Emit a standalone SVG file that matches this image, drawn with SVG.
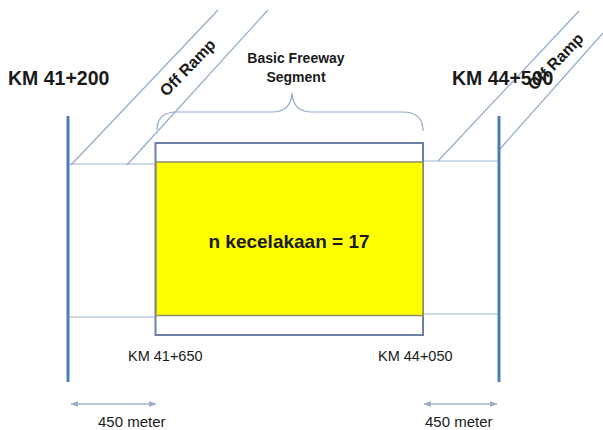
<svg xmlns="http://www.w3.org/2000/svg" width="603" height="430" viewBox="0 0 603 430">
  <defs>
    <marker id="ah" viewBox="0 0 8 8" refX="7" refY="4" markerWidth="6" markerHeight="6" orient="auto-start-reverse">
      <path d="M0,1 L7,4 L0,7 Z" fill="#9aa8c2"/>
    </marker>
    <style>
      .t { font-family: "Liberation Sans", Arial, sans-serif; fill: #1a1a1a; }
      .b { font-weight: bold; }
      .thin { stroke: #9fb6d6; stroke-width: 1.2; fill: none; }
      .ramp { stroke: #93aacd; stroke-width: 1.2; fill: none; }
      .post { stroke: #4a7ebb; stroke-width: 3; }
      .dim { stroke: #a9b5cc; stroke-width: 1.3; fill: none; }
    </style>
  </defs>
  <rect width="603" height="430" fill="#ffffff"/>

  <g id="connectors">
    <!-- lane lines -->
    <line class="thin" x1="68" y1="164" x2="156" y2="164"/>
    <line class="thin" x1="423" y1="161" x2="499" y2="161"/>
    <line class="thin" x1="68" y1="317" x2="156" y2="317"/>
    <line class="thin" x1="423" y1="314" x2="499" y2="314"/>
    <!-- left off ramp -->
    <line class="ramp" x1="71" y1="165" x2="218" y2="10"/>
    <line class="ramp" x1="127" y1="165" x2="268" y2="10"/>
    <!-- right off ramp -->
    <line class="ramp" x1="438" y1="161" x2="579" y2="11"/>
    <line class="ramp" x1="499" y1="150" x2="603" y2="33"/>
    <!-- brace -->
    <path class="ramp" d="M157,130 Q157,112 177,112 L272,112 Q291,112 292,93 Q293,112 312,112 L403,112 Q423,112 423,131"/>
    <!-- dimension arrows -->
    <line class="dim" x1="71" y1="404" x2="156" y2="404" marker-start="url(#ah)" marker-end="url(#ah)"/>
    <line class="dim" x1="424" y1="404" x2="497" y2="404" marker-start="url(#ah)" marker-end="url(#ah)"/>
  </g>

  <g id="post-left">
    <line class="post" x1="68" y1="116" x2="68" y2="382"/>
    <text class="t b" x="8" y="85" font-size="19.5">KM 41+200</text>
  </g>
  <g id="post-right">
    <line class="post" x1="499" y1="116" x2="499" y2="382"/>
  </g>

  <g id="segment">
    <rect x="155.5" y="143" width="267.5" height="192" fill="#ffffff" stroke="#6d7fa6" stroke-width="2"/>
    <rect x="156" y="162" width="267" height="153.5" fill="#ffff00" stroke="#8f8f66" stroke-width="1.5"/>
    <text class="t b" x="289" y="248" font-size="19" text-anchor="middle">n kecelakaan = 17</text>
  </g>

  <g id="label-basic">
    <text class="t b" x="296" y="63" font-size="14" text-anchor="middle" fill="#333">Basic Freeway</text>
    <text class="t b" x="296" y="82" font-size="14" text-anchor="middle" fill="#333">Segment</text>
  </g>

  <g id="ramp-left-label">
    <text class="t b" x="188" y="68" font-size="16" text-anchor="middle" dy="5" transform="rotate(-46 188 68)">Off Ramp</text>
  </g>

  <g id="label-right">
    <text class="t b" x="452" y="85" font-size="19.5">KM 44+500</text>
  </g>
  <g id="ramp-right-label">
    <text class="t b" x="556" y="62" font-size="16" text-anchor="middle" dy="5" transform="rotate(-46 556 62)">Off Ramp</text>
  </g>

  <g id="km-labels">
    <text class="t" x="128" y="361" font-size="14.5">KM 41+650</text>
    <text class="t" x="378" y="361" font-size="14.5">KM 44+050</text>
  </g>

  <g id="dim-labels">
    <text class="t" x="98" y="427" font-size="15">450 meter</text>
    <text class="t" x="425" y="427" font-size="15">450 meter</text>
  </g>
</svg>
